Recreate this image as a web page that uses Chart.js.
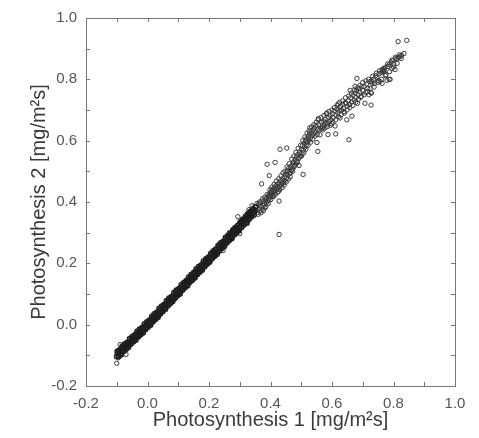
<!DOCTYPE html>
<html>
<head>
<meta charset="utf-8">
<script src="https://cdn.jsdelivr.net/npm/chart.js@4.4.0/dist/chart.umd.min.js"></script>
<style>
  html, body { margin: 0; padding: 0; background: #fff; }
  canvas { display: block; }
</style>
</head>
<body>
<canvas id="myChart" width="479" height="438"></canvas>
<script>
// tight band, lower part (two passes so it reads as one dark stripe)
var bandX = [
    -0.100, -0.097, -0.094, -0.091, -0.088, -0.085, -0.082, -0.079, -0.076, -0.073,
    -0.070, -0.067, -0.064, -0.061, -0.058, -0.055, -0.052, -0.049, -0.046, -0.043,
    -0.040, -0.037, -0.034, -0.031, -0.028, -0.025, -0.022, -0.019, -0.016, -0.013,
    -0.010, -0.007, -0.004, -0.001, 0.002, 0.005, 0.008, 0.011, 0.014, 0.017,
    0.020, 0.023, 0.026, 0.029, 0.032, 0.035, 0.038, 0.041, 0.044, 0.047,
    0.050, 0.053, 0.056, 0.059, 0.062, 0.065, 0.068, 0.071, 0.074, 0.077,
    0.080, 0.083, 0.086, 0.089, 0.092, 0.095, 0.098, 0.101, 0.104, 0.107,
    0.110, 0.113, 0.116, 0.119, 0.122, 0.125, 0.128, 0.131, 0.134, 0.137,
    0.140, 0.143, 0.146, 0.149, 0.152, 0.155, 0.158, 0.161, 0.164, 0.167,
    0.170, 0.173, 0.176, 0.179, 0.182, 0.185, 0.188, 0.191, 0.194, 0.197,
    0.200, 0.203, 0.206, 0.209, 0.212, 0.215, 0.218, 0.221, 0.224, 0.227,
    0.230, 0.233, 0.236, 0.239, 0.242, 0.245, 0.248, 0.251, 0.254, 0.257,
    0.260, 0.263, 0.266, 0.269, 0.272, 0.275, 0.278, 0.281, 0.284, 0.287,
    0.290, 0.293, 0.296, 0.299, 0.302, 0.305, 0.308, 0.311, 0.314, 0.317,
    0.320, 0.323, 0.326, 0.329, 0.332, 0.335, 0.338, 0.341, 0.344, 0.347,
    0.350
];
var bandY = [
    -0.104, -0.092, -0.099, -0.088, -0.095, -0.079, -0.086, -0.074, -0.083, -0.071,
    -0.066, -0.075, -0.060, -0.066, -0.055, -0.061, -0.047, -0.054, -0.043, -0.049,
    -0.036, -0.042, -0.030, -0.036, -0.024, -0.030, -0.018, -0.024, -0.012, -0.019,
    -0.006, -0.012, 0.000, -0.006, 0.006, -0.001, 0.013, 0.006, 0.019, 0.012,
    0.025, 0.019, 0.031, 0.025, 0.038, 0.030, 0.045, 0.038, 0.051, 0.043,
    0.057, 0.051, 0.064, 0.056, 0.070, 0.063, 0.077, 0.069, 0.083, 0.075,
    0.090, 0.083, 0.095, 0.088, 0.102, 0.095, 0.109, 0.101, 0.115, 0.107,
    0.122, 0.114, 0.128, 0.120, 0.135, 0.127, 0.141, 0.133, 0.147, 0.140,
    0.154, 0.146, 0.160, 0.152, 0.167, 0.159, 0.173, 0.165, 0.179, 0.172,
    0.186, 0.178, 0.192, 0.185, 0.199, 0.191, 0.205, 0.197, 0.212, 0.204,
    0.218, 0.210, 0.224, 0.217, 0.231, 0.223, 0.237, 0.229, 0.245, 0.236,
    0.251, 0.242, 0.258, 0.249, 0.264, 0.255, 0.270, 0.262, 0.277, 0.268,
    0.284, 0.274, 0.291, 0.281, 0.297, 0.287, 0.303, 0.295, 0.310, 0.301,
    0.316, 0.308, 0.324, 0.314, 0.330, 0.320, 0.337, 0.328, 0.344, 0.334,
    0.350, 0.341, 0.357, 0.348, 0.364, 0.354, 0.371, 0.361, 0.377, 0.367,
    0.384
];
var band2X = [
    -0.098, -0.094, -0.090, -0.086, -0.082, -0.078, -0.074, -0.070, -0.066, -0.062,
    -0.058, -0.054, -0.050, -0.046, -0.042, -0.038, -0.034, -0.030, -0.026, -0.022,
    -0.018, -0.014, -0.010, -0.006, -0.002, 0.002, 0.006, 0.010, 0.014, 0.018,
    0.022, 0.026, 0.030, 0.034, 0.038, 0.042, 0.046, 0.050, 0.054, 0.058,
    0.062, 0.066, 0.070, 0.074, 0.078, 0.082, 0.086, 0.090, 0.094, 0.098,
    0.102, 0.106, 0.110, 0.114, 0.118, 0.122, 0.126, 0.130, 0.134, 0.138,
    0.142, 0.146, 0.150, 0.154, 0.158, 0.162, 0.166, 0.170, 0.174, 0.178,
    0.182, 0.186, 0.190, 0.194, 0.198, 0.202, 0.206, 0.210, 0.214, 0.218,
    0.222, 0.226, 0.230, 0.234, 0.238, 0.242, 0.246, 0.250, 0.254, 0.258,
    0.262, 0.266, 0.270, 0.274, 0.278, 0.282, 0.286, 0.290, 0.294, 0.298,
    0.302, 0.306, 0.310, 0.314, 0.318, 0.322, 0.326, 0.330, 0.334, 0.338,
    0.342, 0.346
];
var band2Y = [
    -0.087, -0.104, -0.082, -0.098, -0.070, -0.087, -0.063, -0.080, -0.058, -0.074,
    -0.046, -0.063, -0.039, -0.056, -0.034, -0.050, -0.022, -0.039, -0.015, -0.032,
    -0.010, -0.026, 0.002, -0.015, 0.009, -0.008, 0.014, -0.001, 0.027, 0.010,
    0.035, 0.018, 0.040, 0.024, 0.053, 0.036, 0.060, 0.044, 0.066, 0.050,
    0.078, 0.062, 0.086, 0.069, 0.091, 0.076, 0.104, 0.087, 0.112, 0.095,
    0.117, 0.101, 0.130, 0.113, 0.137, 0.121, 0.143, 0.127, 0.155, 0.139,
    0.163, 0.146, 0.169, 0.153, 0.181, 0.164, 0.189, 0.172, 0.194, 0.178,
    0.207, 0.190, 0.214, 0.198, 0.220, 0.204, 0.232, 0.216, 0.240, 0.223,
    0.246, 0.230, 0.258, 0.241, 0.266, 0.249, 0.271, 0.256, 0.284, 0.267,
    0.291, 0.275, 0.297, 0.281, 0.309, 0.293, 0.317, 0.300, 0.323, 0.307,
    0.335, 0.318, 0.343, 0.326, 0.348, 0.333, 0.361, 0.344, 0.368, 0.352,
    0.374, 0.358
];

// wider cloud, upper part
var upperX = [
    0.352, 0.355, 0.358, 0.361, 0.363, 0.366, 0.368, 0.371, 0.373, 0.375,
    0.378, 0.380, 0.382, 0.384, 0.386, 0.388, 0.390, 0.392, 0.394, 0.396,
    0.397, 0.399, 0.400, 0.402, 0.403, 0.405, 0.407, 0.409, 0.411, 0.413,
    0.415, 0.417, 0.420, 0.422, 0.424, 0.426, 0.428, 0.431, 0.433, 0.436,
    0.438, 0.440, 0.443, 0.446, 0.448, 0.450,
    0.452, 0.455, 0.457, 0.459, 0.462, 0.464, 0.466, 0.468, 0.471, 0.473,
    0.475, 0.477, 0.480, 0.482, 0.484, 0.486, 0.489, 0.491, 0.493, 0.495,
    0.497, 0.500, 0.502, 0.504, 0.506, 0.507, 0.509, 0.511, 0.514, 0.516,
    0.518, 0.520, 0.523, 0.525, 0.527, 0.528, 0.530, 0.533, 0.535, 0.538,
    0.540, 0.543, 0.546, 0.548, 0.551, 0.553, 0.554, 0.555,
    0.558, 0.561, 0.563, 0.566, 0.568, 0.571, 0.573, 0.575, 0.578, 0.580,
    0.583, 0.585, 0.587, 0.589, 0.591, 0.594, 0.596, 0.599, 0.601, 0.604,
    0.607, 0.610, 0.612, 0.613, 0.616, 0.619, 0.620, 0.623, 0.626, 0.628,
    0.631, 0.634, 0.637, 0.640, 0.643, 0.646, 0.648, 0.650, 0.653, 0.655,
    0.657, 0.659, 0.661, 0.664, 0.665, 0.668, 0.672, 0.675, 0.678, 0.680,
    0.683, 0.685, 0.688, 0.691, 0.694, 0.697, 0.700, 0.704, 0.707, 0.710,
    0.713, 0.716, 0.720, 0.724, 0.727, 0.728, 0.730, 0.734, 0.738, 0.742,
    0.746, 0.750, 0.753, 0.756, 0.760, 0.763, 0.766, 0.769, 0.772, 0.775,
    0.779, 0.782, 0.786, 0.789, 0.792, 0.795, 0.798, 0.801, 0.805, 0.808,
    0.811, 0.815, 0.817, 0.821, 0.826, 0.834, 0.843
];
var upperY = [
    0.372, 0.385, 0.366, 0.392, 0.378, 0.371, 0.398, 0.384, 0.376, 0.402,
    0.389, 0.395, 0.381, 0.408, 0.396, 0.413, 0.401, 0.419, 0.406, 0.425,
    0.414, 0.421, 0.430, 0.417, 0.436, 0.426, 0.441, 0.430, 0.420, 0.446,
    0.437, 0.452, 0.442, 0.458, 0.447, 0.435, 0.462, 0.452, 0.470, 0.457,
    0.447, 0.476, 0.463, 0.482, 0.470, 0.491,
    0.478, 0.500, 0.488, 0.510, 0.495, 0.482, 0.515, 0.503, 0.522, 0.508,
    0.530, 0.516, 0.538, 0.524, 0.547, 0.533, 0.555, 0.541, 0.519, 0.562,
    0.550, 0.571, 0.558, 0.584, 0.490, 0.569, 0.592, 0.578, 0.600, 0.586,
    0.607, 0.595, 0.614, 0.601, 0.622, 0.642, 0.609, 0.628, 0.616, 0.635,
    0.622, 0.641, 0.628, 0.650, 0.594, 0.636, 0.565, 0.668,
    0.652, 0.619, 0.641, 0.660, 0.647, 0.635, 0.664, 0.652, 0.670, 0.658,
    0.690, 0.646, 0.620, 0.675, 0.662, 0.682, 0.668, 0.655, 0.688, 0.675,
    0.697, 0.648, 0.622, 0.683, 0.704, 0.690, 0.720, 0.698, 0.674, 0.712,
    0.700, 0.718, 0.705, 0.690, 0.724, 0.722, 0.668, 0.712, 0.730, 0.603,
    0.718, 0.764, 0.740, 0.726, 0.680, 0.748, 0.732, 0.755, 0.741, 0.764,
    0.722, 0.750, 0.770, 0.758, 0.742, 0.776, 0.763, 0.777, 0.722, 0.757,
    0.785, 0.770, 0.750, 0.793, 0.716, 0.755, 0.787, 0.800, 0.786, 0.812,
    0.806, 0.796, 0.818, 0.793, 0.822, 0.832, 0.829, 0.824, 0.838, 0.815,
    0.797, 0.842, 0.848, 0.800, 0.855, 0.835, 0.861, 0.850, 0.832, 0.868,
    0.865, 0.923, 0.872, 0.874, 0.878, 0.884, 0.927
];
var upper2X = [
    0.356, 0.360, 0.364, 0.369, 0.374, 0.377, 0.381, 0.385, 0.389, 0.393,
    0.398, 0.401, 0.404, 0.408, 0.412, 0.416, 0.419, 0.423, 0.427, 0.430,
    0.434, 0.437, 0.441, 0.444, 0.447, 0.451, 0.454, 0.458, 0.461, 0.465,
    0.469, 0.472, 0.476, 0.479, 0.483, 0.487, 0.490, 0.494, 0.498, 0.501,
    0.505, 0.508, 0.512, 0.515, 0.519, 0.522, 0.526, 0.530, 0.534, 0.537,
    0.541, 0.545, 0.549, 0.552, 0.556, 0.560, 0.564, 0.569, 0.574, 0.577,
    0.582, 0.586, 0.590, 0.595, 0.600, 0.603, 0.608, 0.612, 0.617, 0.621,
    0.625, 0.630, 0.635, 0.639, 0.644, 0.649, 0.654, 0.658, 0.663, 0.668,
    0.673, 0.677, 0.682, 0.686, 0.691, 0.695, 0.700, 0.705, 0.710, 0.715,
    0.719, 0.724, 0.732, 0.737, 0.744, 0.749, 0.755, 0.761, 0.768, 0.774,
    0.781, 0.787, 0.794, 0.800, 0.806, 0.812, 0.819, 0.825
];
var upper2Y = [
    0.395, 0.360, 0.400, 0.365, 0.410, 0.372, 0.415, 0.385, 0.425, 0.395,
    0.440, 0.408, 0.448, 0.418, 0.458, 0.425, 0.468, 0.432, 0.476, 0.440,
    0.485, 0.462, 0.495, 0.455, 0.500, 0.465, 0.515, 0.475, 0.525, 0.495,
    0.540, 0.500, 0.550, 0.520, 0.562, 0.528, 0.575, 0.545, 0.585, 0.550,
    0.600, 0.560, 0.612, 0.572, 0.625, 0.585, 0.632, 0.595, 0.645, 0.605,
    0.652, 0.615, 0.660, 0.620, 0.672, 0.635, 0.675, 0.640, 0.682, 0.642,
    0.688, 0.655, 0.695, 0.650, 0.700, 0.660, 0.708, 0.668, 0.715, 0.678,
    0.725, 0.685, 0.730, 0.695, 0.740, 0.700, 0.745, 0.708, 0.755, 0.715,
    0.765, 0.725, 0.772, 0.735, 0.780, 0.745, 0.790, 0.750, 0.795, 0.760,
    0.800, 0.770, 0.810, 0.775, 0.820, 0.790, 0.828, 0.800, 0.835, 0.812,
    0.850, 0.825, 0.862, 0.840, 0.872, 0.852, 0.880, 0.868
];

// loose points off the band
var strayX = [
    -0.100, -0.089, -0.070, -0.098, -0.095, -0.060,
    0.246, 0.266, 0.294, 0.280, 0.305, 0.318, 0.330, 0.340, 0.300, 0.325,
    0.428, 0.371, 0.389, 0.415, 0.396, 0.431, 0.453, 0.428,
    0.681, 0.675, 0.727, 0.763, 0.766, 0.769, 0.730, 0.786
];
var strayY = [
    -0.126, -0.065, -0.097, -0.094, -0.108, -0.068,
    0.242, 0.300, 0.352, 0.312, 0.334, 0.355, 0.375, 0.388, 0.297, 0.330,
    0.403, 0.459, 0.523, 0.529, 0.486, 0.572, 0.576, 0.294,
    0.803, 0.777, 0.757, 0.787, 0.826, 0.831, 0.793, 0.800
];

var tickValues = [-0.2, -0.1, 0.0, 0.1, 0.2, 0.3, 0.4, 0.5, 0.6, 0.7, 0.8, 0.9, 1.0];

function toPoints(sets) {
    let out = [];
    sets.forEach(function (set) {
        for (let i = 0; i < set[0].length; i++) {
            out.push({ x: set[0][i], y: set[1][i] });
        }
    });
    return out;
}

var densePoints = toPoints([[bandX, bandY], [band2X, band2Y]]);
var loosePoints = toPoints([[upperX, upperY], [upper2X, upper2Y], [strayX, strayY]]);

// box round the plot with short inward ticks on all four sides
var frame = {
    id: 'frame',
    afterDraw: function (chart) {
        let c = chart.ctx;
        let a = chart.chartArea;
        let sx = chart.scales.x;
        let sy = chart.scales.y;
        c.save();
        c.strokeStyle = '#777';
        c.lineWidth = 1;
        c.strokeRect(a.left + 0.5, a.top + 0.5, a.right - a.left, a.bottom - a.top);
        c.beginPath();
        tickValues.forEach(function (v) {
            let px = Math.round(sx.getPixelForValue(v)) + 0.5;
            c.moveTo(px, a.bottom); c.lineTo(px, a.bottom - 4);
            c.moveTo(px, a.top); c.lineTo(px, a.top + 4);
            let py = Math.round(sy.getPixelForValue(v)) + 0.5;
            c.moveTo(a.left, py); c.lineTo(a.left + 4, py);
            c.moveTo(a.right, py); c.lineTo(a.right - 4, py);
        });
        c.stroke();
        c.restore();
    }
};

function fmt(v) {
    return Math.abs(v) < 1e-9 ? '0.0' : Number(v).toFixed(1);
}

var tickFont = { family: 'Liberation Sans', size: 15 };
var titleFont = { family: 'Liberation Sans', size: 20 };

var ctx = document.getElementById('myChart').getContext('2d');

new Chart(ctx, {
    type: 'scatter',
    data: {
        datasets: [{
            data: densePoints,
            pointRadius: 2.3,
            pointBorderWidth: 1.4,
            borderColor: '#1e1e1e',
            backgroundColor: 'rgba(0,0,0,0)',
            pointHoverRadius: 2.3
        }, {
            data: loosePoints,
            pointRadius: 2.2,
            pointBorderWidth: 1,
            borderColor: '#3a3a3a',
            backgroundColor: 'rgba(0,0,0,0)',
            pointHoverRadius: 2.2
        }]
    },
    options: {
        responsive: false,
        animation: false,
        layout: { padding: { top: 14, right: 24, left: 0, bottom: 0 } },
        plugins: { legend: { display: false }, tooltip: { enabled: false } },
        scales: {
            x: {
                type: 'linear',
                min: -0.2,
                max: 1.0,
                afterFit: function (s) { s.height = 52; },
                grid: { display: false, drawTicks: false },
                border: { display: false },
                ticks: { stepSize: 0.2, padding: 9, color: '#555', font: tickFont, callback: fmt },
                title: {
                    display: true,
                    text: 'Photosynthesis 1 [mg/m²s]',
                    color: '#3a3a3a',
                    font: titleFont,
                    padding: { top: 0, bottom: 6 }
                }
            },
            y: {
                type: 'linear',
                min: -0.2,
                max: 1.0,
                afterFit: function (s) { s.width = 86; },
                grid: { display: false, drawTicks: false },
                border: { display: false },
                ticks: { stepSize: 0.2, padding: 9, color: '#555', font: tickFont, callback: fmt },
                title: {
                    display: true,
                    text: 'Photosynthesis 2 [mg/m²s]',
                    color: '#3a3a3a',
                    font: titleFont,
                    padding: { top: 27, bottom: 0 }
                }
            }
        }
    },
    plugins: [frame]
});
</script>
</body>
</html>
